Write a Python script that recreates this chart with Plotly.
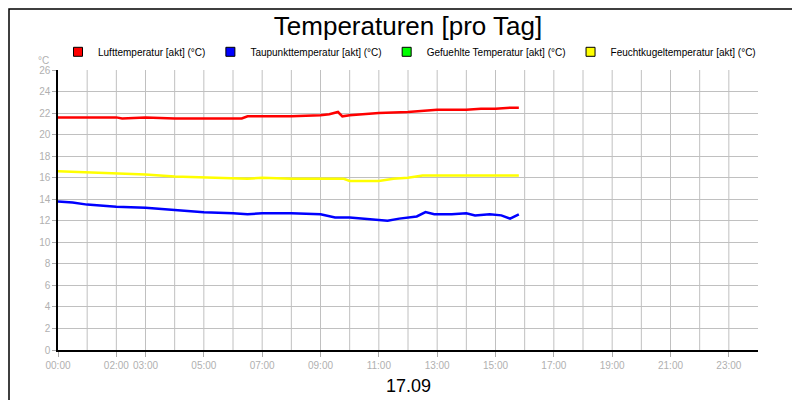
import plotly.graph_objs as go

# hours since 00:00
luft_h = [0, 1, 2, 2.2, 3, 4, 5, 6, 6.3, 6.5, 7, 8, 9, 9.3, 9.6, 9.75, 10, 10.5, 11, 12, 12.5, 13, 13.5, 14, 14.5, 15, 15.5, 15.8]
luft_t = [21.6, 21.6, 21.6, 21.5, 21.6, 21.5, 21.5, 21.5, 21.5, 21.7, 21.7, 21.7, 21.8, 21.9, 22.1, 21.7, 21.8, 21.9, 22.0, 22.1, 22.2, 22.3, 22.3, 22.3, 22.4, 22.4, 22.5, 22.5]

tau_h = [0, 0.5, 1, 2, 3, 4, 5, 6, 6.5, 7, 8, 9, 9.5, 10, 10.5, 11, 11.3, 11.7, 12.3, 12.6, 12.9, 13.5, 14, 14.3, 14.8, 15.2, 15.5, 15.8]
tau_t = [13.8, 13.7, 13.5, 13.3, 13.2, 13.0, 12.8, 12.7, 12.6, 12.7, 12.7, 12.6, 12.3, 12.3, 12.2, 12.1, 12.0, 12.2, 12.4, 12.8, 12.6, 12.6, 12.7, 12.5, 12.6, 12.5, 12.2, 12.6]

feucht_h = [0, 1, 2, 3, 4, 5, 6, 6.5, 7, 8, 9, 9.8, 10, 11, 11.5, 12, 12.5, 13, 14, 15, 15.8]
feucht_t = [16.6, 16.5, 16.4, 16.3, 16.1, 16.0, 15.9, 15.9, 16.0, 15.9, 15.9, 15.9, 15.7, 15.7, 15.9, 16.0, 16.2, 16.2, 16.2, 16.2, 16.2]

tick_vals = [0, 2, 3, 5, 7, 9, 11, 13, 15, 17, 19, 21, 23]
tick_text = ['00:00', '02:00', '03:00', '05:00', '07:00', '09:00', '11:00', '13:00', '15:00', '17:00', '19:00', '21:00', '23:00']

series = [
    ('Lufttemperatur [akt] (°C)', '#ff0000', luft_h, luft_t),
    ('Taupunkttemperatur [akt] (°C)', '#0000ff', tau_h, tau_t),
    ('Gefuehlte Temperatur [akt] (°C)', '#00ff00', [], []),
    ('Feuchtkugeltemperatur [akt] (°C)', '#ffff00', feucht_h, feucht_t),
]

traces = []
for name, col, x, y in series:
    traces.append(go.Scatter(x=x, y=y, mode='lines', line=dict(color=col, width=2.5),
                             showlegend=False, hoverinfo='skip'))
    traces.append(go.Scatter(x=[None], y=[None], mode='markers', name=name,
                             marker=dict(symbol='square', size=9, color=col,
                                         line=dict(color='black', width=1))))

layout = go.Layout(
    width=800, height=400,
    margin=dict(l=50, r=50, t=62, b=58, autoexpand=False),
    paper_bgcolor='white', plot_bgcolor='white',
    font=dict(family='Liberation Sans, Arial', size=10, color='black'),
    title=dict(text='Temperaturen [pro Tag]', x=0.5, xanchor='center', y=0.955, yanchor='middle',
               font=dict(size=26, color='black')),
    xaxis=dict(range=[0, 24], tickmode='array', tickvals=tick_vals, ticktext=tick_text,
               showgrid=False, zeroline=False, showline=True, linecolor='black', linewidth=1.5,
               ticks='outside', ticklen=5, tickcolor='#aaaaaa', tickangle=0, automargin=False,
               tickfont=dict(color='#b0b0b0', size=10)),
    yaxis=dict(range=[0, 26], dtick=2, showgrid=True, gridcolor='#c0c0c0', zeroline=False,
               showline=True, linecolor='black', linewidth=1.5, ticks='outside', ticklen=4,
               tickcolor='#aaaaaa', automargin=False, tickfont=dict(color='#b0b0b0', size=10)),
    legend=dict(orientation='h', x=0.0, xanchor='left', y=1.065, yanchor='middle',
                font=dict(size=10), itemwidth=30, tracegroupgap=0, bgcolor='rgba(0,0,0,0)'),
    annotations=[
        dict(text='°C', xref='paper', yref='paper', x=-0.01, y=1.06, showarrow=False,
             xanchor='right', font=dict(color='#b0b0b0', size=10)),
        dict(text='17.09', xref='paper', yref='paper', x=0.5, y=-0.13, showarrow=False,
             yanchor='middle', font=dict(size=18, color='black')),
    ],
    shapes=[
        dict(type='rect', xref='paper', yref='paper', x0=-0.0700, x1=1.0700, y0=-0.2036, y1=1.2179,
             line=dict(color='black', width=1.5)),
    ] + [
        dict(type='line', xref='x', yref='paper', x0=h, x1=h, y0=0, y1=1,
             line=dict(color='#c0c0c0', width=1), layer='below') for h in range(1, 24)
    ],
)

fig = go.Figure(data=traces, layout=layout)
fig.write_html('out.html')
